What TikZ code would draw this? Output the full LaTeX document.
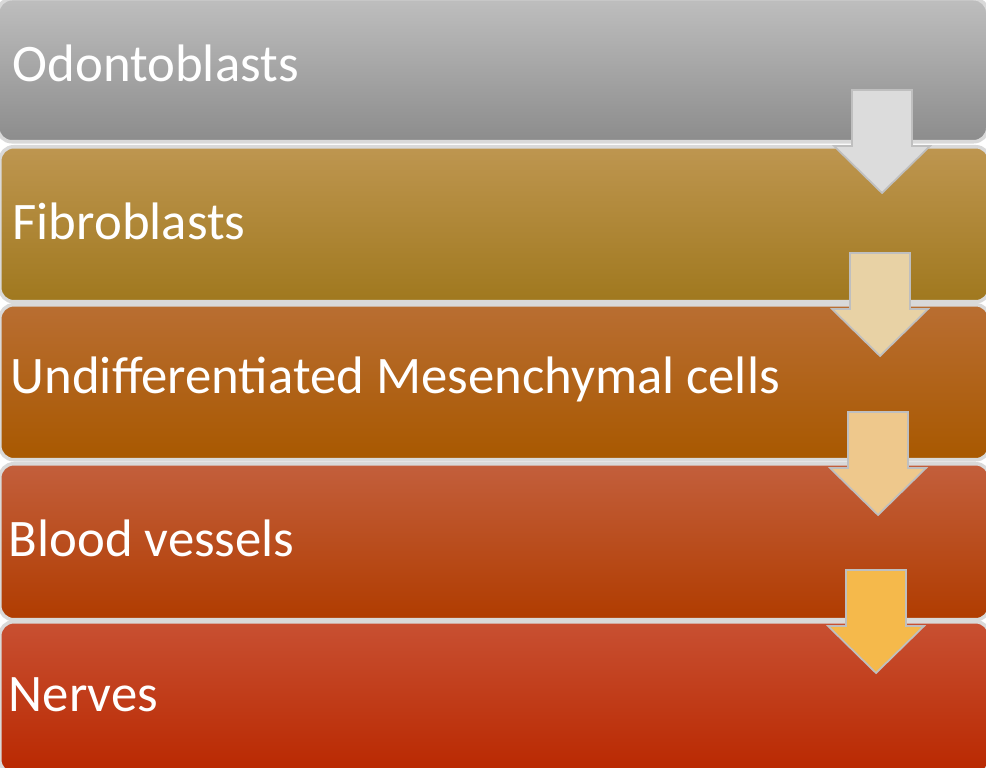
\documentclass[tikz,border=0pt]{standalone}
\usepackage{fontspec}
\setmainfont{Carlito}
\begin{document}
\begin{tikzpicture}[x=0.01cm,y=-0.01cm,
  band/.style={draw=white!85!black,line width=1pt,rounded corners=4pt,anchor=north west,minimum width=990*0.01cm,inner sep=0},
  lbl/.style={anchor=west,text=white,font=\fontsize{15pt}{17pt}\selectfont,inner sep=0},
  darr/.style={draw=white!75!black,line width=0.5pt}]
\useasboundingbox (0,0) rectangle (986,768);
\node[band,minimum height=143*0.01cm,top color={rgb,255:red,190;green,190;blue,190},bottom color={rgb,255:red,140;green,140;blue,140}] (b1) at (-4,-3) {};
\node[band,minimum height=155*0.01cm,top color={rgb,255:red,190;green,150;blue,80},bottom color={rgb,255:red,160;green,120;blue,30}] (b2) at (-2,145) {};
\node[band,minimum height=155*0.01cm,top color={rgb,255:red,185;green,110;blue,50},bottom color={rgb,255:red,168;green,88;blue,0}] (b3) at (-2,303) {};
\node[band,minimum height=156*0.01cm,top color={rgb,255:red,195;green,95;blue,60},bottom color={rgb,255:red,176;green,60;blue,0}] (b4) at (-2,462) {};
\node[band,minimum height=152*0.01cm,top color={rgb,255:red,200;green,80;blue,50},bottom color={rgb,255:red,185;green,40;blue,0}] (b5) at (-2,620) {};
\node[lbl] (t1) at (12,63) {Odontoblasts};
\node[lbl] (t2) at (12,221) {Fibroblasts};
\node[lbl] (t3) at (10,379) {Undifferentiated Mesenchymal cells};
\node[lbl] (t4) at (8,538) {Blood vessels};
\node[lbl] (t5) at (8,695) {Nerves};
\foreach \cx/\ty/\col in {882/90/{rgb,255:red,220;green,220;blue,220},880/253/{rgb,255:red,232;green,210;blue,165},878/412/{rgb,255:red,238;green,200;blue,140},876/570/{rgb,255:red,245;green,185;blue,75}}{
  \draw[darr,fill=\col] (\cx-30,\ty) -- (\cx+30,\ty) -- (\cx+30,\ty+56) -- (\cx+48,\ty+56) -- (\cx,\ty+103) -- (\cx-48,\ty+56) -- (\cx-30,\ty+56) -- cycle;
}
\end{tikzpicture}
\end{document}
